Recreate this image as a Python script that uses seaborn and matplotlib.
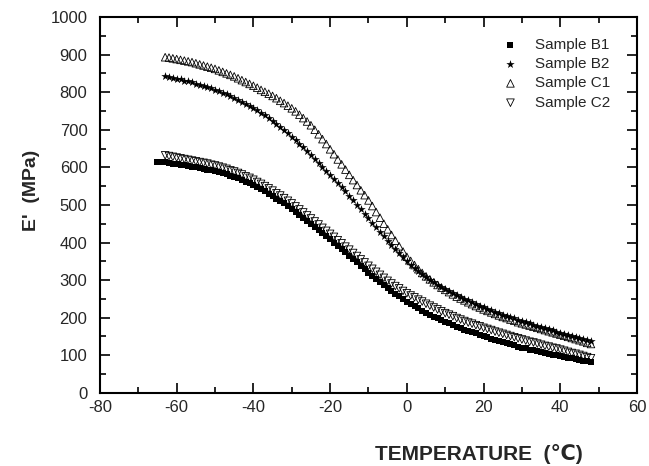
import numpy as np
import pandas as pd
import matplotlib
matplotlib.use("Agg")
import matplotlib.pyplot as plt
import seaborn as sns
from matplotlib.ticker import MultipleLocator

# Storage modulus E' (MPa), 1 degC steps
temp_b1 = list(range(-65, 49))
temp_other = list(range(-63, 49))

e_b1 = [615, 614, 613, 611, 610, 608, 607, 605, 604, 602,
        600, 598, 596, 594, 592, 590, 587, 584, 581, 578,
        575, 571, 567, 562, 558, 553, 548, 542, 536, 530,
        524, 517, 510, 504, 497, 490, 482, 474, 466, 458,
        450, 442, 433, 425, 416, 408, 399, 391, 382, 374,
        365, 356, 347, 338, 329, 320, 311, 303, 294, 286,
        278, 271, 264, 257, 250, 243, 237, 231, 225, 219,
        213, 208, 203, 198, 194, 189, 185, 180, 176, 172,
        168, 165, 161, 158, 154, 151, 148, 144, 141, 138,
        135, 132, 129, 126, 123, 120, 118, 115, 113, 110,
        108, 106, 104, 102, 100, 98, 96, 94, 92, 90,
        88, 86, 84, 82]

e_b2 = [842, 840, 838, 836, 834, 831, 829, 826, 823, 820,
        817, 814, 810, 807, 803, 799, 794, 790, 785, 780,
        775, 769, 764, 758, 752, 745, 738, 731, 723, 715,
        707, 699, 691, 682, 673, 663, 653, 643, 633, 623,
        612, 602, 591, 580, 569, 558, 547, 536, 525, 513,
        501, 489, 477, 465, 453, 441, 429, 417, 405, 394,
        383, 372, 361, 350, 340, 331, 323, 315, 307, 301,
        294, 288, 282, 276, 271, 265, 260, 255, 250, 246,
        241, 237, 232, 228, 224, 220, 216, 212, 208, 205,
        201, 198, 194, 191, 188, 185, 181, 178, 175, 172,
        169, 166, 163, 160, 157, 154, 152, 149, 146, 143,
        140, 137]

e_c1 = [893, 892, 890, 888, 886, 884, 882, 880, 877, 874,
        871, 868, 865, 862, 858, 854, 850, 846, 842, 837,
        832, 827, 822, 817, 812, 806, 801, 796, 790, 784,
        777, 771, 764, 757, 749, 740, 731, 722, 712, 700,
        688, 675, 662, 648, 635, 621, 608, 594, 580, 566,
        553, 539, 526, 512, 497, 481, 466, 450, 435, 420,
        405, 390, 376, 362, 351, 340, 329, 319, 310, 302,
        294, 287, 280, 274, 268, 262, 256, 251, 246, 241,
        236, 231, 227, 222, 218, 214, 210, 206, 202, 199,
        195, 192, 188, 185, 182, 179, 176, 173, 170, 167,
        164, 161, 158, 155, 152, 149, 146, 143, 140, 137,
        133, 130]

e_c2 = [632, 630, 628, 626, 624, 622, 620, 618, 616, 614,
        612, 610, 607, 605, 602, 599, 596, 592, 589, 585,
        581, 576, 572, 567, 561, 556, 550, 544, 538, 531,
        525, 518, 511, 504, 496, 488, 480, 472, 464, 456,
        448, 439, 431, 423, 415, 406, 398, 389, 381, 372,
        364, 355, 347, 338, 330, 322, 314, 306, 298, 291,
        284, 278, 271, 265, 259, 254, 248, 243, 237, 232,
        227, 222, 217, 212, 208, 204, 199, 195, 191, 187,
        184, 180, 177, 173, 170, 167, 163, 160, 157, 154,
        151, 148, 145, 142, 139, 136, 134, 131, 128, 125,
        123, 120, 118, 115, 112, 109, 106, 104, 101, 98,
        95, 92]

sns.set_theme(style="ticks")
plt.rcParams['font.family'] = ['Liberation Sans', 'DejaVu Sans']
plt.rcParams['axes.unicode_minus'] = False

fig = plt.figure(figsize=(6.49, 4.66), dpi=100)
ax = fig.add_axes([0.154, 0.157, 0.8275, 0.8065])

sns.scatterplot(x=temp_b1, y=e_b1, marker='s', s=14, color='black',
                linewidth=0, label='Sample B1', ax=ax, zorder=2)
sns.scatterplot(x=temp_other, y=e_b2, marker='*', s=40, color='black',
                linewidth=0, label='Sample B2', ax=ax, zorder=2)
sns.scatterplot(x=temp_other, y=e_c1, marker='^', s=30, facecolors='none',
                edgecolors='black', linewidth=0.6, label='Sample C1', ax=ax, zorder=3)
sns.scatterplot(x=temp_other, y=e_c2, marker='v', s=30, facecolors='none',
                edgecolors='black', linewidth=0.6, label='Sample C2', ax=ax, zorder=3)

ax.set_xlim(-80, 60)
ax.set_ylim(0, 1000)
ax.xaxis.set_major_locator(MultipleLocator(20))
ax.xaxis.set_minor_locator(MultipleLocator(10))
ax.yaxis.set_major_locator(MultipleLocator(100))
ax.yaxis.set_minor_locator(MultipleLocator(50))
ax.tick_params(which='both', direction='in', top=True, right=True,
               color='black', width=1.2)
ax.tick_params(which='major', length=7)
ax.tick_params(which='minor', length=4)
ax.tick_params(axis='x', labelsize=12, pad=5)
ax.tick_params(axis='y', labelsize=12, pad=9)
for sp in ax.spines.values():
    sp.set_linewidth(1.5)
    sp.set_color('black')

ax.set_xlabel('TEMPERATURE  (℃)', fontsize=15, fontweight='bold')
ax.xaxis.set_label_coords(0.706, -0.135)
ax.set_ylabel("E'  (MPa)", fontsize=14, fontweight='bold')
ax.yaxis.set_label_coords(-0.112, 0.54)

leg = ax.legend(loc='upper right', bbox_to_anchor=(0.95, 0.945), frameon=False,
                fontsize=11, handlelength=1, handletextpad=1.1,
                labelspacing=0.35, borderpad=0, borderaxespad=0)

fig.savefig('out.png', dpi=100)
